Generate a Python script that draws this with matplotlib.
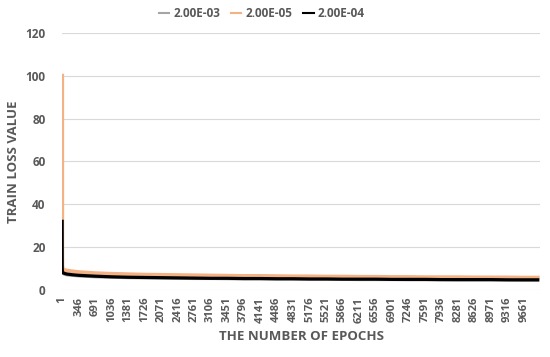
import matplotlib
matplotlib.use("Agg")
import matplotlib.pyplot as plt

# (the noisy bands are approximated by their mid values)
epochs = [1, 2, 3, 5, 10, 20, 50, 100, 200, 346, 691, 1036, 1381, 1726, 2071,
          2416, 2761, 3106, 3451, 3796, 4141, 4486, 4831, 5176, 5521, 5866,
          6211, 6556, 6901, 7246, 7591, 7936, 8281, 8626, 8971, 9316, 9661, 9950]
loss_2e3 = [30.0, 12.0, 9.5, 8.5, 8.0, 7.6, 7.3, 7.0, 6.8, 6.5, 6.1, 5.9, 5.7, 5.6, 5.5,
            5.4, 5.3, 5.3, 5.2, 5.1, 5.1, 5.0, 5.0, 4.9, 4.9, 4.9, 4.8, 4.8, 4.8, 4.7,
            4.7, 4.7, 4.6, 4.6, 4.6, 4.6, 4.5, 4.5]
loss_2e5 = [100.0, 40.0, 18.0, 11.5, 10.0, 9.6, 9.3, 9.0, 8.7, 8.3, 7.8, 7.5, 7.3, 7.1, 7.0,
            6.9, 6.8, 6.7, 6.6, 6.5, 6.5, 6.4, 6.3, 6.3, 6.2, 6.2, 6.1, 6.1, 6.0, 6.0,
            5.9, 5.9, 5.9, 5.8, 5.8, 5.8, 5.7, 5.7]
loss_2e4 = [32.0, 14.0, 10.0, 8.8, 8.3, 8.0, 7.7, 7.4, 7.1, 6.8, 6.4, 6.1, 5.9, 5.8, 5.7,
            5.6, 5.5, 5.4, 5.4, 5.3, 5.3, 5.2, 5.2, 5.1, 5.1, 5.0, 5.0, 5.0, 4.9, 4.9,
            4.9, 4.8, 4.8, 4.8, 4.8, 4.7, 4.7, 4.7]

xtick_vals = list(range(1, 10000, 345))
ytick_vals = [0, 20, 40, 60, 80, 100, 120]

txt = "#595959"
plt.rcParams['font.family'] = ['Open Sans', 'DejaVu Sans']
plt.rcParams['font.weight'] = 'bold'

fig = plt.figure(figsize=(5.5, 3.57), dpi=100)
ax = fig.add_axes([0.113, 0.188, 0.869, 0.72])

ax.plot(epochs, loss_2e3, color="#a5a5a5", lw=2.2, label="2.00E-03", solid_joinstyle="miter")
ax.plot(epochs, loss_2e5, color="#f4b183", lw=2.8, label="2.00E-05", solid_joinstyle="miter")
ax.plot(epochs, loss_2e4, color="#000000", lw=2.3, label="2.00E-04", solid_joinstyle="miter")

ax.set_xlim(1, 10000)
ax.set_ylim(0, 120)
ax.set_yticks(ytick_vals)
ax.set_xticks(xtick_vals)
ax.set_xticklabels([str(v) for v in xtick_vals], rotation=90, fontsize=8,
                   color=txt, fontweight='bold')
ax.set_yticklabels([str(v) for v in ytick_vals], fontsize=8.5, color=txt,
                   fontweight='bold')
ax.tick_params(axis='x', length=0, pad=5)
ax.tick_params(axis='y', length=0, pad=12)

ax.grid(axis='y', color="#d9d9d9", lw=0.8)
ax.set_axisbelow(True)
for s in ax.spines.values():
    s.set_visible(False)

ax.set_xlabel("THE NUMBER OF EPOCHS", fontsize=9.5, color=txt, fontweight='bold', labelpad=5)
ax.set_ylabel("TRAIN LOSS VALUE", fontsize=9.5, color=txt, fontweight='bold', labelpad=4)

leg = fig.legend(loc='center', bbox_to_anchor=(0.476, 0.963), ncol=3, frameon=False,
                 fontsize=8.5, handlelength=0.9, handletextpad=0.35, columnspacing=0.9)
for t in leg.get_texts():
    t.set_color(txt)
for h in leg.get_lines():
    h.set_linewidth(1.5)

fig.savefig("out.png", dpi=100)
